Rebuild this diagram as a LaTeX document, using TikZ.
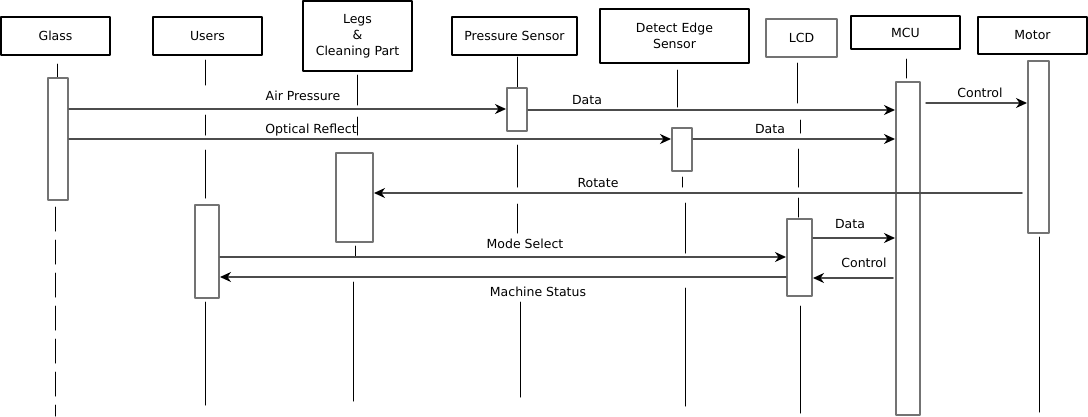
\documentclass[tikz,border=0pt]{standalone}
\usepackage{fontspec}
\setmainfont{DejaVu Sans}
\usetikzlibrary{arrows.meta}
\tikzset{
	head/.style={draw, line width=2pt, align=center, inner sep=0pt, minimum width=109pt, minimum height=38pt},
	bar/.style={draw=black!55, line width=2pt, fill=white, inner sep=0pt},
	life/.style={line width=1pt},
	msg/.style={draw=black!70, line width=1.5pt, -{Stealth[length=11pt,width=10pt,inset=3.5pt,black]}},
	lbl/.style={anchor=base, inner sep=0pt},
}
\begin{document}
\begin{tikzpicture}[x=1pt, y=-1pt, font=\fontsize{12.5}{16}\selectfont, line join=round, line cap=round]
	\useasboundingbox (0,0) rectangle (1088,416);
	\path
	(926,103) coordinate (ctlstart)
	(1022,193) coordinate (rotstart)
	(893,278) coordinate (ctlback)
	;
	\node[head] (glass) at (55.5,36) {Glass};
	\node[head] (users) at (207.5,36) {Users};
	\node[head, minimum height=70pt] (legs) at (357.5,36) {Legs\\\&\\Cleaning Part};
	\node[head, minimum width=125pt] (psensor) at (514.5,36) {Pressure Sensor};
	\node[head, minimum width=149pt, minimum height=54pt] (edge) at (674.5,36) {Detect Edge\\Sensor};
	\node[head, draw=black!55, line width=1.5pt, minimum width=71pt] (lcd) at (801.5,38) {LCD};
	\node[head, minimum height=33pt] (mcu) at (905.5,32.5) {MCU};
	\node[head, minimum height=37pt] (motor) at (1032.5,35.5) {Motor};
	\foreach \x/\a/\b in {57/64/78, 205/60/85, 205/115/135, 205/150/198, 205/302/405,
		357/75/105, 357/117/135, 355/246/256, 353/282/401,
		517/57/88, 517/145/187, 517/204/233, 520/302/397,
		677/70/107, 682/177/187, 685/203/253, 685/288/406,
		797/63/103, 800/120/133, 798/149/187, 798/198/217, 800/306/413,
		906/59/78, 1039/237/412}
		\draw[life] (\x,\a) -- (\x,\b);
	\draw[life, dash pattern=on 24pt off 9pt] (55,207) -- (55,416);
	\node[bar, minimum width=20pt, minimum height=122pt] (glassbar) at (58,139) {};
	\node[bar, minimum width=24pt, minimum height=93pt] (usersbar) at (207,251.5) {};
	\node[bar, minimum width=37pt, minimum height=89pt] (legsbar) at (354.5,197.5) {};
	\node[bar, minimum width=20pt, minimum height=43pt] (psbar) at (517,109.5) {};
	\node[bar, minimum width=20pt, minimum height=43pt] (edgebar) at (682,149.5) {};
	\node[bar, minimum width=25pt, minimum height=77pt] (lcdbar) at (799.5,257.5) {};
	\node[bar, minimum width=24pt, minimum height=333pt] (mcubar) at (908,248.5) {};
	\node[bar, minimum width=21pt, minimum height=172pt] (motorbar) at (1038.5,147) {};
	\draw[msg] (glassbar.east |- 0,109) -- (psbar.west |- 0,109);
	\draw[msg] (psbar.east |- 0,110) -- (mcubar.west |- 0,110);
	\draw[msg] (glassbar.east |- 0,139) -- (edgebar.west |- 0,139);
	\draw[msg] (edgebar.east |- 0,139) -- (mcubar.west |- 0,139);
	\draw[msg] (ctlstart) -- (motorbar.west |- ctlstart);
	\draw[msg] (rotstart) -- (legsbar.east |- rotstart);
	\draw[msg] (lcdbar.east |- 0,238) -- (mcubar.west |- 0,238);
	\draw[msg] (usersbar.east |- 0,257) -- (lcdbar.west |- 0,257);
	\draw[msg] (ctlback) -- (lcdbar.east |- ctlback);
	\draw[msg] (lcdbar.west |- 0,277) -- (usersbar.east |- 0,277);
	\node[lbl] (airlbl) at (303,100) {Air Pressure};
	\node[lbl] (datalbl) at (587,104.5) {Data};
	\node[lbl] (opticlbl) at (311,133.5) {Optical Reflect};
	\node[lbl] (edgedatalbl) at (770,133.5) {Data};
	\node[lbl] (ctllbl) at (980,97) {Control};
	\node[lbl] (rotlbl) at (598,187.5) {Rotate};
	\node[lbl] (lcddatalbl) at (850,228) {Data};
	\node[lbl] (modelbl) at (525,248) {Mode Select};
	\node[lbl] (backlbl) at (864,267) {Control};
	\node[lbl] (statuslbl) at (538,296) {Machine Status};
\end{tikzpicture}
\end{document}
